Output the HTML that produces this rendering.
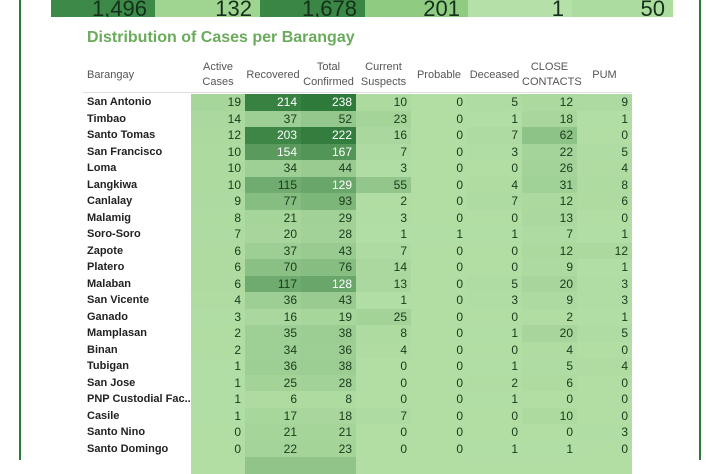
<!DOCTYPE html>
<html><head><meta charset="utf-8"><style>
body{margin:0;width:720px;height:460px;overflow:hidden;background:#fff;font-family:"Liberation Sans Narrow","Liberation Sans",sans-serif;position:relative}
.bl{position:absolute;left:19px;top:0;width:2px;height:460px;background:#2b7a35}
.br{position:absolute;left:699px;top:0;width:2px;height:460px;background:#2b7a35}
.top{position:absolute;top:0;height:17px;overflow:hidden;font-size:22px;line-height:17px;text-align:right;color:#14301a;box-sizing:border-box;padding-right:8px}
.title{position:absolute;left:87px;top:29px;font-family:"Liberation Sans",sans-serif;font-weight:bold;font-size:16px;color:#6aab5c}
.hd{position:absolute;font-size:11px;color:#555;text-align:center;line-height:15px}
.hl{position:absolute;left:83px;top:92px;width:549px;height:1px;background:#ddd}
table{position:absolute;left:83px;top:94px;width:549px;border-collapse:collapse;table-layout:fixed;font-size:12px}
tr{height:16.5px}
td{height:16.5px;padding:0 4px 0 0;text-align:right;color:#1a3a1c;line-height:16px;white-space:nowrap;overflow:hidden;box-sizing:border-box}
td:first-child{text-align:left;padding-left:4px;background:#fff;color:#222;font-weight:bold;font-family:"Liberation Sans",sans-serif;font-size:11px}
</style></head><body>
<div class="bl"></div><div class="br"></div>
<div class="top" style="left:51px;width:104px;background:#3d8a48">1,496</div>
<div class="top" style="left:155px;width:105px;background:#9fd491">132</div>
<div class="top" style="left:260px;width:105px;background:#3a8745">1,678</div>
<div class="top" style="left:365px;width:103px;background:#8fcc82">201</div>
<div class="top" style="left:468px;width:104px;background:#b5e1a8">1</div>
<div class="top" style="left:572px;width:101px;background:#addc9f">50</div>
<div class="title">Distribution of Cases per Barangay</div>
<div class="hd" style="left:87px;top:68px;text-align:left">Barangay</div>
<div class="hd" style="left:191px;top:60px;width:54px">Active<br>Cases</div>
<div class="hd" style="left:245px;top:68px;width:56px">Recovered</div>
<div class="hd" style="left:301px;top:60px;width:55px">Total<br>Confirmed</div>
<div class="hd" style="left:356px;top:60px;width:55px">Current<br>Suspects</div>
<div class="hd" style="left:411px;top:68px;width:56px">Probable</div>
<div class="hd" style="left:467px;top:68px;width:55px">Deceased</div>
<div class="hd" style="left:522px;top:60px;width:55px">CLOSE<br>CONTACTS</div>
<div class="hd" style="left:577px;top:68px;width:55px">PUM</div>
<div class="hl"></div>
<table id="t">
<colgroup><col style="width:108px"><col style="width:54px"><col style="width:56px"><col style="width:55px"><col style="width:55px"><col style="width:56px"><col style="width:55px"><col style="width:55px"><col style="width:55px"></colgroup>
<tr><td>San Antonio</td><td>19</td><td>214</td><td>238</td><td>10</td><td>0</td><td>5</td><td>12</td><td>9</td></tr>
<tr><td>Timbao</td><td>14</td><td>37</td><td>52</td><td>23</td><td>0</td><td>1</td><td>18</td><td>1</td></tr>
<tr><td>Santo Tomas</td><td>12</td><td>203</td><td>222</td><td>16</td><td>0</td><td>7</td><td>62</td><td>0</td></tr>
<tr><td>San Francisco</td><td>10</td><td>154</td><td>167</td><td>7</td><td>0</td><td>3</td><td>22</td><td>5</td></tr>
<tr><td>Loma</td><td>10</td><td>34</td><td>44</td><td>3</td><td>0</td><td>0</td><td>26</td><td>4</td></tr>
<tr><td>Langkiwa</td><td>10</td><td>115</td><td>129</td><td>55</td><td>0</td><td>4</td><td>31</td><td>8</td></tr>
<tr><td>Canlalay</td><td>9</td><td>77</td><td>93</td><td>2</td><td>0</td><td>7</td><td>12</td><td>6</td></tr>
<tr><td>Malamig</td><td>8</td><td>21</td><td>29</td><td>3</td><td>0</td><td>0</td><td>13</td><td>0</td></tr>
<tr><td>Soro-Soro</td><td>7</td><td>20</td><td>28</td><td>1</td><td>1</td><td>1</td><td>7</td><td>1</td></tr>
<tr><td>Zapote</td><td>6</td><td>37</td><td>43</td><td>7</td><td>0</td><td>0</td><td>12</td><td>12</td></tr>
<tr><td>Platero</td><td>6</td><td>70</td><td>76</td><td>14</td><td>0</td><td>0</td><td>9</td><td>1</td></tr>
<tr><td>Malaban</td><td>6</td><td>117</td><td>128</td><td>13</td><td>0</td><td>5</td><td>20</td><td>3</td></tr>
<tr><td>San Vicente</td><td>4</td><td>36</td><td>43</td><td>1</td><td>0</td><td>3</td><td>9</td><td>3</td></tr>
<tr><td>Ganado</td><td>3</td><td>16</td><td>19</td><td>25</td><td>0</td><td>0</td><td>2</td><td>1</td></tr>
<tr><td>Mamplasan</td><td>2</td><td>35</td><td>38</td><td>8</td><td>0</td><td>1</td><td>20</td><td>5</td></tr>
<tr><td>Binan</td><td>2</td><td>34</td><td>36</td><td>4</td><td>0</td><td>0</td><td>4</td><td>0</td></tr>
<tr><td>Tubigan</td><td>1</td><td>36</td><td>38</td><td>0</td><td>0</td><td>1</td><td>5</td><td>4</td></tr>
<tr><td>San Jose</td><td>1</td><td>25</td><td>28</td><td>0</td><td>0</td><td>2</td><td>6</td><td>0</td></tr>
<tr><td>PNP Custodial Fac..</td><td>1</td><td>6</td><td>8</td><td>0</td><td>0</td><td>1</td><td>0</td><td>0</td></tr>
<tr><td>Casile</td><td>1</td><td>17</td><td>18</td><td>7</td><td>0</td><td>0</td><td>10</td><td>0</td></tr>
<tr><td>Santo Nino</td><td>0</td><td>21</td><td>21</td><td>0</td><td>0</td><td>0</td><td>0</td><td>3</td></tr>
<tr><td>Santo Domingo</td><td>0</td><td>22</td><td>23</td><td>0</td><td>0</td><td>1</td><td>1</td><td>0</td></tr>
<tr><td>&nbsp;</td><td>&nbsp;</td><td data-v="60">&nbsp;</td><td data-v="60">&nbsp;</td><td>&nbsp;</td><td>&nbsp;</td><td>&nbsp;</td><td>&nbsp;</td><td>&nbsp;</td></tr>
</table>
<script>
var a=[178,222,164],b=[46,122,58];
document.querySelectorAll('#t td:not(:first-child)').forEach(function(td){
 var v=parseFloat(td.dataset.v||td.textContent)||0;var t=Math.min(1,v/230);
 var c=a.map(function(x,i){return Math.round(x+(b[i]-x)*t)});
 td.style.background='rgb('+c.join(',')+')';
 if(v>120)td.style.color='#fff';
});
</script>
</body></html>
